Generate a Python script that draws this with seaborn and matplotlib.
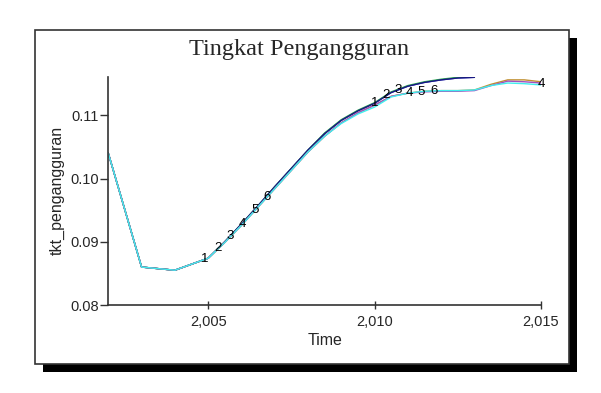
import numpy as np
import pandas as pd
import seaborn as sns
import matplotlib.pyplot as plt
from matplotlib.patches import Rectangle

# data (6 simulation runs)
years_upper = [2002, 2003, 2004, 2005, 2005.5, 2006, 2006.5, 2007, 2007.5, 2008, 2008.5,
               2009, 2009.5, 2010, 2010.5, 2011, 2011.5, 2012, 2012.5, 2013]
years_lower = years_upper + [2013.5, 2014, 2014.5, 2015]

run1 = [0.1040, 0.0860, 0.0855, 0.0874, 0.0900, 0.0928, 0.0957, 0.0987, 0.1016, 0.1045, 0.1071,
        0.1092, 0.1107, 0.1119, 0.1136, 0.1146, 0.1152, 0.1156, 0.1159, 0.1160]
run2 = [0.1040, 0.0860, 0.0855, 0.0874, 0.0900, 0.0928, 0.0957, 0.0987, 0.1016, 0.1045, 0.1072,
        0.1093, 0.1108, 0.1120, 0.1137, 0.1147, 0.1153, 0.1157, 0.1160, 0.1161]
run3 = [0.1040, 0.0860, 0.0855, 0.0874, 0.0900, 0.0928, 0.0957, 0.0987, 0.1016, 0.1045, 0.1071,
        0.1092, 0.1107, 0.1119, 0.1136, 0.1146, 0.1152, 0.1156, 0.1159, 0.1160]
run4 = [0.1040, 0.0860, 0.0855, 0.0874, 0.0899, 0.0926, 0.0955, 0.0984, 0.1013, 0.1042, 0.1067,
        0.1088, 0.1104, 0.1116, 0.1130, 0.1135, 0.1138, 0.1139, 0.1139, 0.1140,
        0.1149, 0.1156, 0.1156, 0.1153]
run5 = [0.1040, 0.0860, 0.0855, 0.0874, 0.0899, 0.0926, 0.0955, 0.0984, 0.1013, 0.1042, 0.1067,
        0.1088, 0.1104, 0.1116, 0.1130, 0.1135, 0.1137, 0.1138, 0.1138, 0.1139,
        0.1147, 0.1154, 0.1153, 0.1151]
run6 = [0.1040, 0.0860, 0.0855, 0.0874, 0.0899, 0.0926, 0.0955, 0.0984, 0.1013, 0.1042, 0.1067,
        0.1087, 0.1102, 0.1113, 0.1129, 0.1135, 0.1138, 0.1139, 0.1139, 0.1140,
        0.1147, 0.1151, 0.1150, 0.1148]

run_names = ['1', '2', '3', '4', '5', '6']
run_colors = ['#2a2ad0', '#30b050', '#181880', '#c09030', '#a050c0', '#40eeee']

# where Vensim put the run numbers
label_x_first = [2004.9, 2005.3, 2005.65, 2006.03, 2006.42, 2006.78]
label_x_second = [2010.0, 2010.35, 2010.7, 2011.05, 2011.4, 2011.8]
label_end = ('4', 2015)

runs = [run1, run2, run3, run4, run5, run6]
run_years = [years_upper] * 3 + [years_lower] * 3
df = pd.concat([pd.DataFrame({'Time': y, 'val': v, 'run': n})
                for y, v, n in zip(run_years, runs, run_names)], ignore_index=True)

sns.set_style('white')
plt.rcParams['font.family'] = ['Liberation Sans', 'DejaVu Sans']

fig = plt.figure(figsize=(6.01, 3.93), dpi=100)

# frame with drop shadow
fig.patches.append(Rectangle((43 / 601, 1 - 372 / 393), 534 / 601, 334 / 393,
                             transform=fig.transFigure, facecolor='black', edgecolor='none', zorder=0))
fig.patches.append(Rectangle((35 / 601, 1 - 364 / 393), 534 / 601, 334 / 393,
                             transform=fig.transFigure, facecolor='white', edgecolor='#333333',
                             linewidth=1.2, zorder=1))

ax = fig.add_axes([108.3 / 601, 1 - 305 / 393, (541 - 108.3) / 601, (305 - 76.7) / 393])
ax.set_facecolor('none')
ax.set_zorder(3)

sns.lineplot(data=df, x='Time', y='val', hue='run', palette=run_colors, hue_order=run_names,
             sort=False, linewidth=1.0, legend=False, ax=ax)

for i, x in enumerate(label_x_first):
    ax.text(x, np.interp(x, run_years[i], runs[i]), run_names[i], ha='center', va='center',
            fontsize=9.5, color='black')
for i, x in enumerate(label_x_second):
    ax.text(x, np.interp(x, run_years[i], runs[i]), run_names[i], ha='center', va='center',
            fontsize=9.5, color='black')
ax.text(label_end[1], np.interp(label_end[1], years_lower, run4) - 0.0003, label_end[0],
        ha='center', va='center', fontsize=9.5, color='black')

ax.set_xlim(2002, 2015)
ax.set_ylim(0.08, 0.1161)
ax.set_xticks([2005, 2010, 2015])
ax.set_xticklabels(['2,005', '2,010', '2,015'])
ax.set_yticks([0.08, 0.09, 0.10, 0.11])
ax.set_yticklabels(['0.08', '0.09', '0.10', '0.11'])
ax.tick_params(axis='x', bottom=True, direction='inout', length=6, width=1, color='#333333',
               labelsize=10.5, pad=4)
ax.tick_params(axis='y', left=True, direction='out', length=6, width=1, color='#333333',
               labelsize=10.5, pad=1)
for s in ['top', 'right']:
    ax.spines[s].set_visible(False)
for s in ['left', 'bottom']:
    ax.spines[s].set_color('#333333')
    ax.spines[s].set_linewidth(1.2)

ax.set_xlabel('Time', fontsize=11.5, labelpad=3)
ax.set_ylabel('tkt_pengangguran', fontsize=11.5, labelpad=4)

fig.text(299 / 601, 1 - 50 / 393, 'Tingkat Pengangguran', ha='center', va='center',
         fontsize=17.5, family='Liberation Serif')

fig.savefig('out.png', dpi=100)
